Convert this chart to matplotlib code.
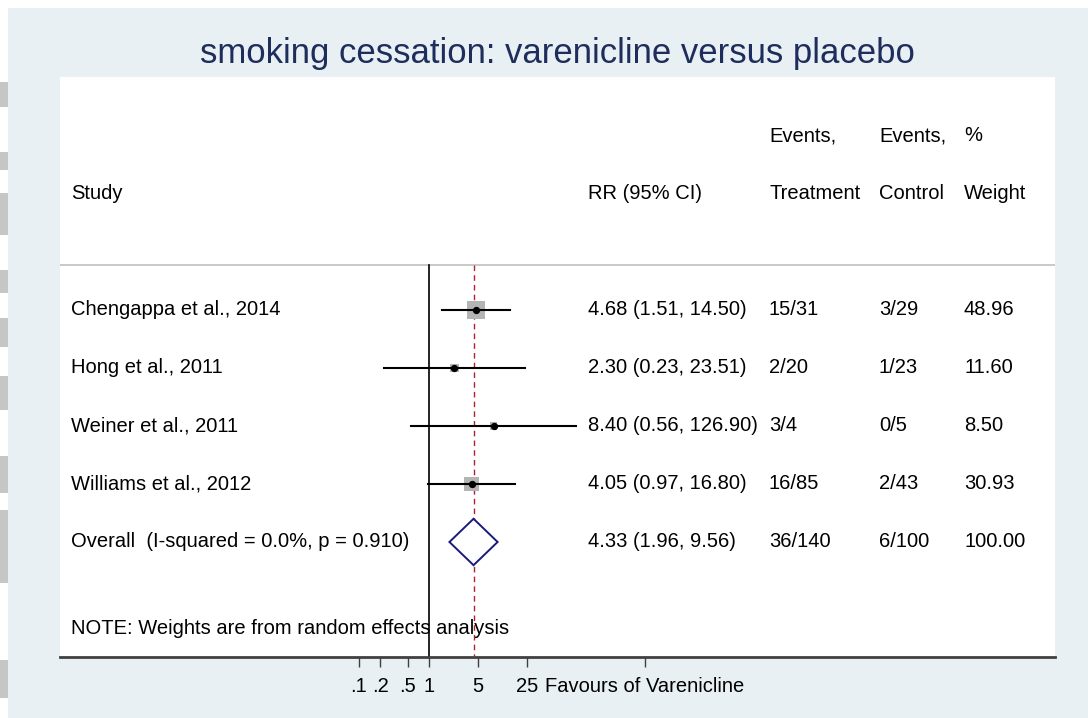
import matplotlib
matplotlib.use("Agg")
import matplotlib.pyplot as plt
from matplotlib.patches import Rectangle, Polygon
import numpy as np

plt.rcParams["font.family"] = ["Liberation Sans", "DejaVu Sans"]

# data
studies = ["Chengappa et al., 2014", "Hong et al., 2011",
           "Weiner et al., 2011", "Williams et al., 2012"]
rr = [4.68, 2.30, 8.40, 4.05]
lo = [1.51, 0.23, 0.56, 0.97]
hi = [14.50, 23.51, 126.90, 16.80]
ev_treat = ["15/31", "2/20", "3/4", "16/85"]
ev_ctrl = ["3/29", "1/23", "0/5", "2/43"]
weight = [48.96, 11.60, 8.50, 30.93]

overall_label = "Overall  (I-squared = 0.0%, p = 0.910)"
overall_rr, overall_lo, overall_hi = 4.33, 1.96, 9.56
overall_treat, overall_ctrl, overall_weight = "36/140", "6/100", 100.00

ticks = [0.1, 0.2, 0.5, 1, 5, 25]
tick_labels = [".1", ".2", ".5", "1", "5", "25"]
favours_pos = 1220
favours_text = "Favours of Varenicline"

BG = "#e8f0f3"
NAVY = "#1e2d5c"

fig = plt.figure(figsize=(10.88, 7.18), dpi=100, facecolor="white")

# outer light panel and the grey bits along the left edge
fig.patches.append(Rectangle((8 / 1088, 0), 1, 1 - 8 / 718, transform=fig.transFigure,
                             facecolor=BG, edgecolor="none", zorder=-5))
for y0, y1 in [(82, 107), (152, 170), (193, 235), (270, 293), (318, 347),
               (376, 410), (456, 493), (510, 583), (660, 698)]:
    fig.patches.append(Rectangle((0, 1 - y1 / 718), 8 / 1088, (y1 - y0) / 718,
                                 transform=fig.transFigure, facecolor="#c6c6c6",
                                 edgecolor="none", zorder=-5))

ax = fig.add_axes([60 / 1088, 1 - 657 / 718, 995 / 1088, 580 / 718])
ax.set_facecolor("white")
ax.set_xscale("log")
ax.set_xlim(10 ** -5.271, 10 ** 8.943)
ax.set_ylim(5.983, -4.017)

fig.text(0.512, 1 - 54 / 718, "smoking cessation: varenicline versus placebo",
         ha="center", va="center", fontsize=25, color=NAVY)

fs = 14.5
tr = ax.get_yaxis_transform()  # x in axes fraction, y in data
col_study = (71 - 60) / 995
col_rr = (588 - 60) / 995
col_t = (769 - 60) / 995
col_c = (879 - 60) / 995
col_w = (964 - 60) / 995

# header
ax.text(col_t, -3, "Events,", transform=tr, fontsize=fs, va="center")
ax.text(col_c, -3, "Events,", transform=tr, fontsize=fs, va="center")
ax.text(col_w, -3, "%", transform=tr, fontsize=fs, va="center")
for x, s in [(col_study, "Study"), (col_rr, "RR (95% CI)"), (col_t, "Treatment"),
             (col_c, "Control"), (col_w, "Weight")]:
    ax.text(x, -2, s, transform=tr, fontsize=fs, va="center")
ax.axhline(-0.776, color="#c0c0c0", lw=1.2)

# null line and overall line
ax.plot([1, 1], [-0.776, 5.983], color="black", lw=1.2, zorder=2)
ax.plot([overall_rr, overall_rr], [-0.776, 5.983], color="#b02030", lw=1.0,
        ls=(0, (4, 3)), zorder=3)

rows = np.arange(len(studies))
for i in rows:
    ax.plot([lo[i], hi[i]], [i, i], color="black", lw=1.5, zorder=4)
    side = 2.2 * np.sqrt(weight[i])
    ax.scatter([rr[i]], [i], marker="s", s=side ** 2 * 0.7, color="#b4b4b4",
               edgecolors="none", zorder=3)
    ax.scatter([rr[i]], [i], marker="o", s=18, color="black", zorder=5)
    ax.text(col_study, i, studies[i], transform=tr, fontsize=fs, va="center")
    ax.text(col_rr, i, f"{rr[i]:.2f} ({lo[i]:.2f}, {hi[i]:.2f})", transform=tr,
            fontsize=fs, va="center")
    ax.text(col_t, i, ev_treat[i], transform=tr, fontsize=fs, va="center")
    ax.text(col_c, i, ev_ctrl[i], transform=tr, fontsize=fs, va="center")
    ax.text(col_w, i, f"{weight[i]:.2f}", transform=tr, fontsize=fs, va="center")

# overall diamond
k = len(studies)
dia = Polygon([[overall_lo, k], [overall_rr, k - 0.4], [overall_hi, k],
               [overall_rr, k + 0.4]], closed=True, facecolor="white",
              edgecolor="#1a1a7a", lw=1.4, zorder=4)
ax.add_patch(dia)
ax.text(col_study, k, overall_label, transform=tr, fontsize=fs, va="center")
ax.text(col_rr, k, f"{overall_rr:.2f} ({overall_lo:.2f}, {overall_hi:.2f})",
        transform=tr, fontsize=fs, va="center")
ax.text(col_t, k, overall_treat, transform=tr, fontsize=fs, va="center")
ax.text(col_c, k, overall_ctrl, transform=tr, fontsize=fs, va="center")
ax.text(col_w, k, f"{overall_weight:.2f}", transform=tr, fontsize=fs, va="center")

ax.text(col_study, 5.5, "NOTE: Weights are from random effects analysis",
        transform=tr, fontsize=fs, va="center")

# axis
for s in ["top", "right", "left"]:
    ax.spines[s].set_visible(False)
ax.spines["bottom"].set_color("#404040")
ax.spines["bottom"].set_linewidth(2)
ax.set_yticks([])
ax.minorticks_off()
ax.set_xticks(ticks + [favours_pos])
ax.set_xticklabels(tick_labels + [favours_text])
ax.tick_params(axis="x", length=7.5, width=1, color="#404040", labelsize=fs,
               pad=7)

fig.savefig("out.png", dpi=100, facecolor=fig.get_facecolor())
